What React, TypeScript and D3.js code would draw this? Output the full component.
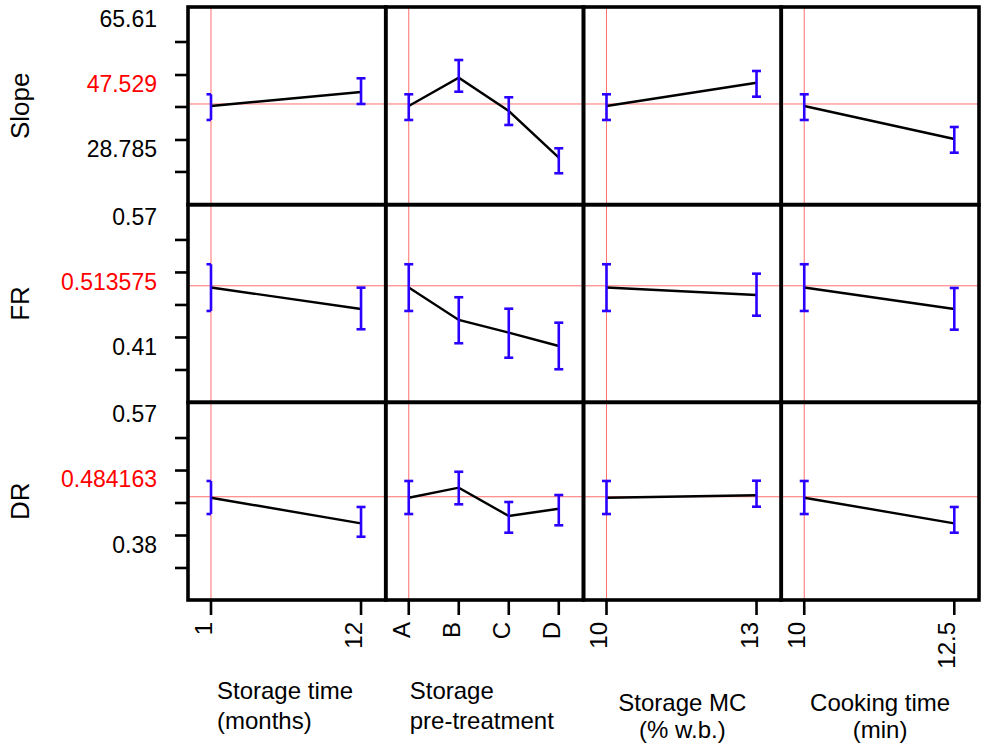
import React from "react";
import * as d3 from "d3";

// ---------- data ----------
const rowNames = ["Slope", "FR", "DR"];
const factorLevels = [["1", "12"], ["A", "B", "C", "D"], ["10", "13"], ["10", "12.5"]];
const factorTitles = [
  ["Storage time", "(months)"],
  ["Storage", "pre-treatment"],
  ["Storage MC", "(% w.b.)"],
  ["Cooking time", "(min)"],
];

const rowMeans = [47.529, 0.513575, 0.484163];
const slopeLabels = ["65.61", "47.529", "28.785"];
const frLabels = ["0.57", "0.513575", "0.41"];
const drLabels = ["0.57", "0.484163", "0.38"];

const slopeTicks = [28.27, 37.33, 46.68, 55.74, 65.09];
const frTicks = [0.41, 0.45, 0.49, 0.53, 0.57];
const drTicks = [0.38, 0.4275, 0.475, 0.5225, 0.57];

// value domains shown by each row of panels (bottom, top)
const slopeDomain = [19.0, 75.01];
const frDomain = [0.3702, 0.6134];
const drDomain = [0.3332, 0.6222];

const slopeMeans = [[46.96, 50.93], [46.96, 54.98, 45.55, 32.32], [46.96, 53.56], [46.96, 37.61]];
const slopeLower = [[43.0, 47.53], [43.0, 51.01, 41.58, 27.9], [43.0, 49.6], [43.0, 33.73]];
const slopeUpper = [[50.28, 54.81], [50.28, 59.99, 49.43, 34.98], [50.28, 56.88], [50.28, 41.01]];

const frMeans = [[0.5115, 0.4851], [0.5115, 0.4715, 0.4559, 0.4395], [0.5115, 0.5023], [0.5115, 0.4851]];
const frLower = [[0.4826, 0.4601], [0.4826, 0.4429, 0.4251, 0.4109], [0.4826, 0.4768], [0.4826, 0.4596]];
const frUpper = [[0.5401, 0.5113], [0.5401, 0.4995, 0.4854, 0.4682], [0.5401, 0.5285], [0.5401, 0.5109]];

const drMeans = [[0.4827, 0.4453], [0.4827, 0.4974, 0.456, 0.4667], [0.4827, 0.4863], [0.4827, 0.4453]];
const drLower = [[0.4589, 0.4257], [0.4589, 0.4731, 0.4316, 0.4424], [0.4589, 0.4696], [0.4589, 0.4316]];
const drUpper = [[0.5072, 0.4692], [0.5072, 0.5207, 0.4765, 0.4867], [0.5072, 0.5076], [0.5072, 0.4692]];

// ---------- layout ----------
const W = 984;
const H = 748;
const LEFT = 188;
const RIGHT = 979;
const TOP = 7;
const BOTTOM = 600;
const FONT = "'Liberation Sans', Arial, sans-serif";
const BLUE = "#2b00ff";
const RED = "#ff7070";

const rows = [
  { name: rowNames[0], mean: rowMeans[0], labels: slopeLabels, ticks: slopeTicks, domain: slopeDomain, m: slopeMeans, lo: slopeLower, hi: slopeUpper },
  { name: rowNames[1], mean: rowMeans[1], labels: frLabels, ticks: frTicks, domain: frDomain, m: frMeans, lo: frLower, hi: frUpper },
  { name: rowNames[2], mean: rowMeans[2], labels: drLabels, ticks: drTicks, domain: drDomain, m: drMeans, lo: drLower, hi: drUpper },
];

const titleLayout = [
  { anchor: "start", dx: 29, base: [699, 729] },
  { anchor: "start", dx: 24, base: [699, 729] },
  { anchor: "middle", dx: 0.5, base: [711, 738] },
  { anchor: "middle", dx: 0.5, base: [711, 738] },
];

export default function App() {
  const colScale = d3.scaleBand<number>().domain([0, 1, 2, 3]).range([LEFT, RIGHT]).paddingInner(0).paddingOuter(0);
  const rowScale = d3.scaleBand<number>().domain([0, 1, 2]).range([TOP, BOTTOM]);
  const cw = colScale.bandwidth();
  const rh = rowScale.bandwidth();

  const xScales = factorLevels.map((lv, c) => {
    const x0 = colScale(c)!;
    return d3.scalePoint<string>().domain(lv).range([x0 + cw * 0.1163, x0 + cw * 0.875]);
  });

  const yScales = rows.map((r, i) => {
    const y0 = rowScale(i)!;
    return d3.scaleLinear().domain(r.domain).range([y0 + rh, y0]);
  });

  const lineGen = (xs: d3.ScalePoint<string>, ys: d3.ScaleLinear<number, number>, levels: string[]) =>
    d3.line<number>().x((_, i) => xs(levels[i])!).y((d) => ys(d));

  const cap = 4.5;

  return (
    <svg width={W} height={H} style={{ position: "absolute", left: 0, top: 0, background: "#fff" }} fontFamily={FONT}>
      <rect x={0} y={0} width={W} height={H} fill="#fff" />

      {/* red reference lines */}
      {rows.map((r, i) => (
        <line key={"h" + i} x1={LEFT} x2={RIGHT} y1={yScales[i](r.mean)} y2={yScales[i](r.mean)} stroke={RED} strokeWidth={1} />
      ))}
      {factorLevels.map((lv, c) => (
        <line key={"v" + c} x1={xScales[c](lv[0])} x2={xScales[c](lv[0])} y1={TOP} y2={BOTTOM} stroke={RED} strokeWidth={1} />
      ))}

      {/* data */}
      {rows.map((r, i) =>
        factorLevels.map((lv, c) => {
          const xs = xScales[c];
          const ys = yScales[i];
          return (
            <g key={`d${i}-${c}`}>
              <path d={lineGen(xs, ys, lv)(r.m[c]) || ""} fill="none" stroke="#000" strokeWidth={2.4} />
              {lv.map((l, k) => {
                const x = xs(l)!;
                const yl = ys(r.lo[c][k]);
                const yh = ys(r.hi[c][k]);
                const half = c === 0 && k === 0;
                const cx1 = x - cap;
                const cx2 = half ? x : x + cap;
                return (
                  <g key={l} stroke={BLUE} strokeWidth={2.6}>
                    <line x1={x} x2={x} y1={yl} y2={yh} />
                    <line x1={cx1} x2={cx2} y1={yl} y2={yl} />
                    <line x1={cx1} x2={cx2} y1={yh} y2={yh} />
                  </g>
                );
              })}
            </g>
          );
        })
      )}

      {/* panel frames */}
      {rows.map((_, i) =>
        factorLevels.map((__, c) => (
          <rect key={`p${i}-${c}`} x={colScale(c)!} y={rowScale(i)!} width={cw} height={rh} fill="none" stroke="#000" strokeWidth={3.6} />
        ))
      )}

      {/* y axes */}
      {rows.map((r, i) => {
        const ys = yScales[i];
        const y0 = rowScale(i)!;
        const labelPos = [0.06, 0.39, 0.72];
        return (
          <g key={"ya" + i}>
            {r.ticks.map((t) => (
              <line key={t} x1={LEFT - 13} x2={LEFT} y1={ys(t)} y2={ys(t)} stroke="#000" strokeWidth={2.6} />
            ))}
            {r.labels.map((lab, k) => (
              <text
                key={lab + k}
                x={157}
                y={y0 + rh * labelPos[k]}
                dy="0.35em"
                textAnchor="end"
                fontSize={23}
                fill={k === 1 ? "#ff0000" : "#000"}
              >
                {lab}
              </text>
            ))}
            <text
              transform={`translate(20,${y0 + rh / 2}) rotate(-90)`}
              textAnchor="middle"
              dy="0.35em"
              fontSize={26}
              fill="#000"
            >
              {r.name}
            </text>
          </g>
        );
      })}

      {/* x axes */}
      {factorLevels.map((lv, c) => {
        const xs = xScales[c];
        const x0 = colScale(c)!;
        const tl = titleLayout[c];
        const tx = tl.anchor === "middle" ? x0 + cw * tl.dx : x0 + tl.dx;
        return (
          <g key={"xa" + c}>
            {lv.map((l) => (
              <g key={l}>
                <line x1={xs(l)} x2={xs(l)} y1={BOTTOM} y2={BOTTOM + 15} stroke="#000" strokeWidth={2.6} />
                <text transform={`translate(${xs(l)! + 1},${BOTTOM + 22}) rotate(-90)`} textAnchor="end" fontSize={24} fill="#000">
                  {l}
                </text>
              </g>
            ))}
            {factorTitles[c].map((t, k) => (
              <text key={t} x={tx} y={tl.base[k]} textAnchor={tl.anchor as any} fontSize={24} fill="#000">
                {t}
              </text>
            ))}
          </g>
        );
      })}
    </svg>
  );
}
